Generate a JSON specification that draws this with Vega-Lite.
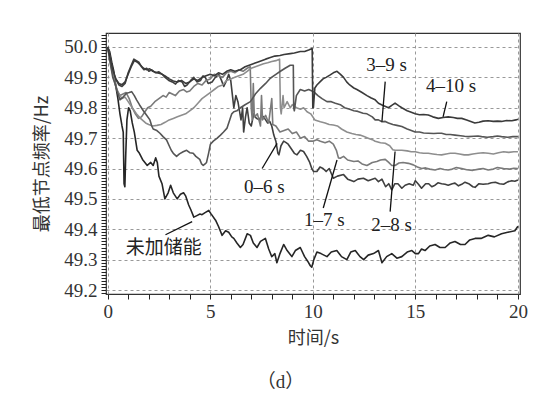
{
"$schema": "https://vega.github.io/schema/vega-lite/v6.json",
"width": 414, "height": 261,
"autosize": {"type": "none"},
"padding": {"left": 106, "top": 33, "right": 24, "bottom": 104},
"background": "white",
"config": {"view": {"stroke": "#333", "strokeWidth": 1.2}},
"title": {"text": "（d）", "orient": "bottom", "anchor": "middle", "frame": "bounds", "font": "Liberation Serif, Noto Sans CJK SC", "fontSize": 19, "fontWeight": "normal", "color": "#333", "offset": 26},
"datasets": {
"lines": [
{"s":"n","t":0,"f":50.0},{"s":"n","t":0.1,"f":49.985},{"s":"n","t":0.2,"f":49.95},{"s":"n","t":0.3,"f":49.92},{"s":"n","t":0.4,"f":49.87},{"s":"n","t":0.5,"f":49.83},{"s":"n","t":0.6,"f":49.78},{"s":"n","t":0.7,"f":49.74},{"s":"n","t":0.76,"f":49.72},{"s":"n","t":0.8,"f":49.55},{"s":"n","t":0.84,"f":49.54},{"s":"n","t":0.88,"f":49.64},{"s":"n","t":0.94,"f":49.76},{"s":"n","t":1.02,"f":49.8},{"s":"n","t":1.1,"f":49.79},{"s":"n","t":1.2,"f":49.75},{"s":"n","t":1.3,"f":49.72},{"s":"n","t":1.44,"f":49.66},{"s":"n","t":1.55,"f":49.65},{"s":"n","t":1.7,"f":49.63},{"s":"n","t":1.93,"f":49.61},{"s":"n","t":2.1,"f":49.62},{"s":"n","t":2.22,"f":49.61},{"s":"n","t":2.34,"f":49.635},{"s":"n","t":2.42,"f":49.62},{"s":"n","t":2.5,"f":49.575},{"s":"n","t":2.65,"f":49.55},{"s":"n","t":2.79,"f":49.5},{"s":"n","t":2.95,"f":49.52},{"s":"n","t":3.07,"f":49.545},{"s":"n","t":3.2,"f":49.52},{"s":"n","t":3.39,"f":49.5},{"s":"n","t":3.55,"f":49.515},{"s":"n","t":3.7,"f":49.52},{"s":"n","t":3.8,"f":49.51},{"s":"n","t":3.95,"f":49.48},{"s":"n","t":4.05,"f":49.465},{"s":"n","t":4.2,"f":49.44},{"s":"n","t":4.35,"f":49.445},{"s":"n","t":4.5,"f":49.45},{"s":"n","t":4.6,"f":49.448},{"s":"n","t":4.75,"f":49.455},{"s":"n","t":4.93,"f":49.462},{"s":"n","t":5.05,"f":49.45},{"s":"n","t":5.26,"f":49.43},{"s":"n","t":5.4,"f":49.41},{"s":"n","t":5.58,"f":49.38},{"s":"n","t":5.75,"f":49.395},{"s":"n","t":5.9,"f":49.39},{"s":"n","t":6.05,"f":49.375},{"s":"n","t":6.15,"f":49.37},{"s":"n","t":6.3,"f":49.355},{"s":"n","t":6.47,"f":49.34},{"s":"n","t":6.6,"f":49.35},{"s":"n","t":6.8,"f":49.385},{"s":"n","t":6.96,"f":49.38},{"s":"n","t":7.1,"f":49.355},{"s":"n","t":7.28,"f":49.34},{"s":"n","t":7.45,"f":49.36},{"s":"n","t":7.69,"f":49.37},{"s":"n","t":7.85,"f":49.335},{"s":"n","t":8.0,"f":49.31},{"s":"n","t":8.15,"f":49.32},{"s":"n","t":8.25,"f":49.29},{"s":"n","t":8.4,"f":49.32},{"s":"n","t":8.58,"f":49.35},{"s":"n","t":8.75,"f":49.33},{"s":"n","t":8.98,"f":49.31},{"s":"n","t":9.15,"f":49.33},{"s":"n","t":9.39,"f":49.34},{"s":"n","t":9.6,"f":49.31},{"s":"n","t":9.75,"f":49.295},{"s":"n","t":9.88,"f":49.28},{"s":"n","t":9.95,"f":49.275},{"s":"n","t":10.05,"f":49.3},{"s":"n","t":10.2,"f":49.325},{"s":"n","t":10.4,"f":49.32},{"s":"n","t":10.69,"f":49.31},{"s":"n","t":10.9,"f":49.325},{"s":"n","t":11.17,"f":49.33},{"s":"n","t":11.4,"f":49.31},{"s":"n","t":11.66,"f":49.3},{"s":"n","t":11.85,"f":49.325},{"s":"n","t":12.07,"f":49.33},{"s":"n","t":12.3,"f":49.31},{"s":"n","t":12.48,"f":49.3},{"s":"n","t":12.7,"f":49.315},{"s":"n","t":12.96,"f":49.32},{"s":"n","t":13.2,"f":49.33},{"s":"n","t":13.37,"f":49.29},{"s":"n","t":13.6,"f":49.31},{"s":"n","t":13.85,"f":49.32},{"s":"n","t":14.1,"f":49.305},{"s":"n","t":14.34,"f":49.31},{"s":"n","t":14.6,"f":49.325},{"s":"n","t":14.83,"f":49.33},{"s":"n","t":15.0,"f":49.32},{"s":"n","t":15.15,"f":49.32},{"s":"n","t":15.3,"f":49.335},{"s":"n","t":15.47,"f":49.33},{"s":"n","t":15.7,"f":49.345},{"s":"n","t":15.96,"f":49.35},{"s":"n","t":16.2,"f":49.34},{"s":"n","t":16.45,"f":49.34},{"s":"n","t":16.7,"f":49.355},{"s":"n","t":16.93,"f":49.36},{"s":"n","t":17.2,"f":49.35},{"s":"n","t":17.42,"f":49.35},{"s":"n","t":17.65,"f":49.365},{"s":"n","t":17.91,"f":49.37},{"s":"n","t":18.2,"f":49.37},{"s":"n","t":18.55,"f":49.38},{"s":"n","t":18.85,"f":49.375},{"s":"n","t":19.2,"f":49.385},{"s":"n","t":19.5,"f":49.39},{"s":"n","t":19.85,"f":49.395},{"s":"n","t":20.0,"f":49.41},

{"s":"a","t":0,"f":50.0},{"s":"a","t":0.12,"f":49.97},{"s":"a","t":0.23,"f":49.93},{"s":"a","t":0.35,"f":49.9},{"s":"a","t":0.55,"f":49.875},{"s":"a","t":0.7,"f":49.87},{"s":"a","t":0.85,"f":49.88},{"s":"a","t":1.0,"f":49.915},{"s":"a","t":1.15,"f":49.94},{"s":"a","t":1.28,"f":49.96},{"s":"a","t":1.4,"f":49.955},{"s":"a","t":1.52,"f":49.95},{"s":"a","t":1.65,"f":49.935},{"s":"a","t":1.77,"f":49.925},{"s":"a","t":1.9,"f":49.93},{"s":"a","t":2.01,"f":49.92},{"s":"a","t":2.15,"f":49.925},{"s":"a","t":2.34,"f":49.915},{"s":"a","t":2.5,"f":49.918},{"s":"a","t":2.66,"f":49.91},{"s":"a","t":2.8,"f":49.9},{"s":"a","t":2.98,"f":49.89},{"s":"a","t":3.15,"f":49.885},{"s":"a","t":3.31,"f":49.878},{"s":"a","t":3.45,"f":49.89},{"s":"a","t":3.63,"f":49.885},{"s":"a","t":3.75,"f":49.87},{"s":"a","t":3.87,"f":49.875},{"s":"a","t":4.05,"f":49.89},{"s":"a","t":4.2,"f":49.9},{"s":"a","t":4.35,"f":49.885},{"s":"a","t":4.53,"f":49.89},{"s":"a","t":4.65,"f":49.905},{"s":"a","t":4.76,"f":49.9},{"s":"a","t":4.9,"f":49.88},{"s":"a","t":5.09,"f":49.885},{"s":"a","t":5.25,"f":49.9},{"s":"a","t":5.42,"f":49.91},{"s":"a","t":5.55,"f":49.89},{"s":"a","t":5.66,"f":49.87},{"s":"a","t":5.8,"f":49.89},{"s":"a","t":5.9,"f":49.91},{"s":"a","t":6.0,"f":49.89},{"s":"a","t":6.1,"f":49.83},{"s":"a","t":6.15,"f":49.8},{"s":"a","t":6.25,"f":49.84},{"s":"a","t":6.35,"f":49.82},{"s":"a","t":6.5,"f":49.76},{"s":"a","t":6.58,"f":49.8},{"s":"a","t":6.63,"f":49.72},{"s":"a","t":6.72,"f":49.77},{"s":"a","t":6.8,"f":49.8},{"s":"a","t":6.9,"f":49.75},{"s":"a","t":7.0,"f":49.74},{"s":"a","t":7.12,"f":49.78},{"s":"a","t":7.25,"f":49.765},{"s":"a","t":7.4,"f":49.76},{"s":"a","t":7.5,"f":49.775},{"s":"a","t":7.6,"f":49.77},{"s":"a","t":7.7,"f":49.76},{"s":"a","t":7.8,"f":49.75},{"s":"a","t":7.9,"f":49.755},{"s":"a","t":8.0,"f":49.74},{"s":"a","t":8.1,"f":49.71},{"s":"a","t":8.2,"f":49.69},{"s":"a","t":8.3,"f":49.65},{"s":"a","t":8.35,"f":49.645},{"s":"a","t":8.45,"f":49.675},{"s":"a","t":8.58,"f":49.69},{"s":"a","t":8.7,"f":49.685},{"s":"a","t":8.8,"f":49.68},{"s":"a","t":8.95,"f":49.665},{"s":"a","t":9.1,"f":49.65},{"s":"a","t":9.23,"f":49.645},{"s":"a","t":9.4,"f":49.66},{"s":"a","t":9.55,"f":49.656},{"s":"a","t":9.7,"f":49.64},{"s":"a","t":9.85,"f":49.62},{"s":"a","t":9.95,"f":49.6},{"s":"a","t":10.04,"f":49.59},{"s":"a","t":10.2,"f":49.59},{"s":"a","t":10.35,"f":49.605},{"s":"a","t":10.5,"f":49.6},{"s":"a","t":10.65,"f":49.59},{"s":"a","t":10.8,"f":49.6},{"s":"a","t":11.0,"f":49.568},{"s":"a","t":11.2,"f":49.575},{"s":"a","t":11.5,"f":49.58},{"s":"a","t":11.7,"f":49.565},{"s":"a","t":12.0,"f":49.557},{"s":"a","t":12.2,"f":49.565},{"s":"a","t":12.47,"f":49.568},{"s":"a","t":12.7,"f":49.56},{"s":"a","t":12.9,"f":49.565},{"s":"a","t":13.04,"f":49.568},{"s":"a","t":13.2,"f":49.557},{"s":"a","t":13.37,"f":49.565},{"s":"a","t":13.55,"f":49.54},{"s":"a","t":13.7,"f":49.55},{"s":"a","t":13.85,"f":49.53},{"s":"a","t":14.0,"f":49.55},{"s":"a","t":14.15,"f":49.55},{"s":"a","t":14.34,"f":49.535},{"s":"a","t":14.5,"f":49.545},{"s":"a","t":14.7,"f":49.55},{"s":"a","t":14.9,"f":49.545},{"s":"a","t":15.0,"f":49.56},{"s":"a","t":15.15,"f":49.548},{"s":"a","t":15.3,"f":49.535},{"s":"a","t":15.5,"f":49.55},{"s":"a","t":15.65,"f":49.55},{"s":"a","t":15.8,"f":49.54},{"s":"a","t":15.96,"f":49.545},{"s":"a","t":16.1,"f":49.553},{"s":"a","t":16.28,"f":49.55},{"s":"a","t":16.45,"f":49.548},{"s":"a","t":16.6,"f":49.545},{"s":"a","t":16.8,"f":49.55},{"s":"a","t":16.93,"f":49.552},{"s":"a","t":17.1,"f":49.543},{"s":"a","t":17.26,"f":49.548},{"s":"a","t":17.42,"f":49.555},{"s":"a","t":17.6,"f":49.55},{"s":"a","t":17.8,"f":49.54},{"s":"a","t":17.91,"f":49.538},{"s":"a","t":18.1,"f":49.55},{"s":"a","t":18.3,"f":49.548},{"s":"a","t":18.55,"f":49.55},{"s":"a","t":18.7,"f":49.553},{"s":"a","t":18.9,"f":49.555},{"s":"a","t":19.1,"f":49.55},{"s":"a","t":19.3,"f":49.548},{"s":"a","t":19.5,"f":49.556},{"s":"a","t":19.7,"f":49.56},{"s":"a","t":19.85,"f":49.558},{"s":"a","t":20.0,"f":49.562},

{"s":"b","t":0,"f":50.0},{"s":"b","t":0.15,"f":49.95},{"s":"b","t":0.3,"f":49.9},{"s":"b","t":0.45,"f":49.86},{"s":"b","t":0.6,"f":49.84},{"s":"b","t":0.75,"f":49.845},{"s":"b","t":0.9,"f":49.85},{"s":"b","t":1.05,"f":49.83},{"s":"b","t":1.2,"f":49.8},{"s":"b","t":1.35,"f":49.78},{"s":"b","t":1.5,"f":49.765},{"s":"b","t":1.65,"f":49.77},{"s":"b","t":1.8,"f":49.785},{"s":"b","t":1.95,"f":49.8},{"s":"b","t":2.1,"f":49.805},{"s":"b","t":2.3,"f":49.82},{"s":"b","t":2.5,"f":49.83},{"s":"b","t":2.7,"f":49.84},{"s":"b","t":2.85,"f":49.835},{"s":"b","t":3.0,"f":49.85},{"s":"b","t":3.15,"f":49.845},{"s":"b","t":3.3,"f":49.84},{"s":"b","t":3.5,"f":49.855},{"s":"b","t":3.7,"f":49.86},{"s":"b","t":3.85,"f":49.852},{"s":"b","t":4.0,"f":49.855},{"s":"b","t":4.2,"f":49.87},{"s":"b","t":4.4,"f":49.88},{"s":"b","t":4.6,"f":49.875},{"s":"b","t":4.8,"f":49.89},{"s":"b","t":5.0,"f":49.895},{"s":"b","t":5.2,"f":49.91},{"s":"b","t":5.4,"f":49.905},{"s":"b","t":5.6,"f":49.9},{"s":"b","t":5.8,"f":49.915},{"s":"b","t":6.0,"f":49.92},{"s":"b","t":6.2,"f":49.915},{"s":"b","t":6.4,"f":49.925},{"s":"b","t":6.6,"f":49.92},{"s":"b","t":6.8,"f":49.93},{"s":"b","t":6.95,"f":49.935},{"s":"b","t":7.0,"f":49.8},{"s":"b","t":7.05,"f":49.76},{"s":"b","t":7.1,"f":49.88},{"s":"b","t":7.15,"f":49.77},{"s":"b","t":7.3,"f":49.78},{"s":"b","t":7.45,"f":49.74},{"s":"b","t":7.5,"f":49.84},{"s":"b","t":7.55,"f":49.76},{"s":"b","t":7.7,"f":49.775},{"s":"b","t":7.85,"f":49.75},{"s":"b","t":8.0,"f":49.83},{"s":"b","t":8.05,"f":49.745},{"s":"b","t":8.2,"f":49.74},{"s":"b","t":8.4,"f":49.72},{"s":"b","t":8.6,"f":49.725},{"s":"b","t":8.8,"f":49.73},{"s":"b","t":9.0,"f":49.715},{"s":"b","t":9.2,"f":49.72},{"s":"b","t":9.4,"f":49.7},{"s":"b","t":9.6,"f":49.705},{"s":"b","t":9.8,"f":49.69},{"s":"b","t":10.0,"f":49.69},{"s":"b","t":10.2,"f":49.695},{"s":"b","t":10.37,"f":49.69},{"s":"b","t":10.6,"f":49.685},{"s":"b","t":10.8,"f":49.69},{"s":"b","t":11.0,"f":49.68},{"s":"b","t":11.15,"f":49.66},{"s":"b","t":11.25,"f":49.635},{"s":"b","t":11.34,"f":49.634},{"s":"b","t":11.5,"f":49.64},{"s":"b","t":11.7,"f":49.628},{"s":"b","t":12.0,"f":49.623},{"s":"b","t":12.2,"f":49.625},{"s":"b","t":12.4,"f":49.615},{"s":"b","t":12.64,"f":49.61},{"s":"b","t":12.9,"f":49.62},{"s":"b","t":13.12,"f":49.623},{"s":"b","t":13.3,"f":49.628},{"s":"b","t":13.53,"f":49.63},{"s":"b","t":13.7,"f":49.62},{"s":"b","t":13.85,"f":49.61},{"s":"b","t":14.01,"f":49.61},{"s":"b","t":14.2,"f":49.618},{"s":"b","t":14.4,"f":49.62},{"s":"b","t":14.66,"f":49.617},{"s":"b","t":14.9,"f":49.612},{"s":"b","t":15.1,"f":49.605},{"s":"b","t":15.31,"f":49.6},{"s":"b","t":15.5,"f":49.602},{"s":"b","t":15.7,"f":49.598},{"s":"b","t":15.96,"f":49.595},{"s":"b","t":16.2,"f":49.6},{"s":"b","t":16.4,"f":49.597},{"s":"b","t":16.6,"f":49.595},{"s":"b","t":16.8,"f":49.598},{"s":"b","t":17.0,"f":49.603},{"s":"b","t":17.26,"f":49.6},{"s":"b","t":17.5,"f":49.596},{"s":"b","t":17.8,"f":49.594},{"s":"b","t":18.1,"f":49.598},{"s":"b","t":18.3,"f":49.6},{"s":"b","t":18.55,"f":49.595},{"s":"b","t":18.8,"f":49.598},{"s":"b","t":19.0,"f":49.603},{"s":"b","t":19.3,"f":49.6},{"s":"b","t":19.6,"f":49.598},{"s":"b","t":19.8,"f":49.601},{"s":"b","t":20.0,"f":49.6},

{"s":"c","t":0,"f":50.0},{"s":"c","t":0.15,"f":49.94},{"s":"c","t":0.35,"f":49.88},{"s":"c","t":0.5,"f":49.85},{"s":"c","t":0.7,"f":49.83},{"s":"c","t":0.85,"f":49.835},{"s":"c","t":1.0,"f":49.82},{"s":"c","t":1.2,"f":49.8},{"s":"c","t":1.4,"f":49.78},{"s":"c","t":1.6,"f":49.765},{"s":"c","t":1.85,"f":49.75},{"s":"c","t":2.0,"f":49.745},{"s":"c","t":2.2,"f":49.74},{"s":"c","t":2.4,"f":49.742},{"s":"c","t":2.6,"f":49.745},{"s":"c","t":2.8,"f":49.752},{"s":"c","t":3.0,"f":49.76},{"s":"c","t":3.2,"f":49.765},{"s":"c","t":3.4,"f":49.77},{"s":"c","t":3.6,"f":49.775},{"s":"c","t":3.8,"f":49.78},{"s":"c","t":4.0,"f":49.79},{"s":"c","t":4.2,"f":49.8},{"s":"c","t":4.4,"f":49.815},{"s":"c","t":4.6,"f":49.83},{"s":"c","t":4.8,"f":49.84},{"s":"c","t":5.0,"f":49.85},{"s":"c","t":5.2,"f":49.86},{"s":"c","t":5.4,"f":49.87},{"s":"c","t":5.6,"f":49.875},{"s":"c","t":5.8,"f":49.89},{"s":"c","t":6.0,"f":49.895},{"s":"c","t":6.2,"f":49.9},{"s":"c","t":6.4,"f":49.905},{"s":"c","t":6.6,"f":49.91},{"s":"c","t":6.8,"f":49.92},{"s":"c","t":7.0,"f":49.93},{"s":"c","t":7.2,"f":49.935},{"s":"c","t":7.4,"f":49.94},{"s":"c","t":7.6,"f":49.945},{"s":"c","t":7.8,"f":49.948},{"s":"c","t":8.0,"f":49.952},{"s":"c","t":8.2,"f":49.955},{"s":"c","t":8.38,"f":49.96},{"s":"c","t":8.42,"f":49.8},{"s":"c","t":8.46,"f":49.78},{"s":"c","t":8.55,"f":49.84},{"s":"c","t":8.6,"f":49.8},{"s":"c","t":8.75,"f":49.82},{"s":"c","t":8.9,"f":49.8},{"s":"c","t":9.0,"f":49.81},{"s":"c","t":9.2,"f":49.8},{"s":"c","t":9.4,"f":49.795},{"s":"c","t":9.55,"f":49.8},{"s":"c","t":9.72,"f":49.787},{"s":"c","t":9.9,"f":49.78},{"s":"c","t":10.1,"f":49.76},{"s":"c","t":10.37,"f":49.754},{"s":"c","t":10.6,"f":49.75},{"s":"c","t":10.8,"f":49.745},{"s":"c","t":11.0,"f":49.743},{"s":"c","t":11.2,"f":49.74},{"s":"c","t":11.4,"f":49.73},{"s":"c","t":11.66,"f":49.72},{"s":"c","t":11.9,"f":49.715},{"s":"c","t":12.1,"f":49.712},{"s":"c","t":12.3,"f":49.71},{"s":"c","t":12.5,"f":49.705},{"s":"c","t":12.7,"f":49.7},{"s":"c","t":12.9,"f":49.695},{"s":"c","t":13.04,"f":49.69},{"s":"c","t":13.3,"f":49.685},{"s":"c","t":13.53,"f":49.683},{"s":"c","t":13.75,"f":49.675},{"s":"c","t":13.9,"f":49.662},{"s":"c","t":14.01,"f":49.66},{"s":"c","t":14.2,"f":49.66},{"s":"c","t":14.34,"f":49.66},{"s":"c","t":14.6,"f":49.658},{"s":"c","t":14.8,"f":49.655},{"s":"c","t":14.99,"f":49.655},{"s":"c","t":15.2,"f":49.652},{"s":"c","t":15.4,"f":49.65},{"s":"c","t":15.63,"f":49.65},{"s":"c","t":15.85,"f":49.648},{"s":"c","t":16.05,"f":49.646},{"s":"c","t":16.28,"f":49.645},{"s":"c","t":16.5,"f":49.648},{"s":"c","t":16.7,"f":49.65},{"s":"c","t":16.93,"f":49.65},{"s":"c","t":17.15,"f":49.648},{"s":"c","t":17.38,"f":49.645},{"s":"c","t":17.58,"f":49.645},{"s":"c","t":17.8,"f":49.648},{"s":"c","t":18.05,"f":49.65},{"s":"c","t":18.3,"f":49.652},{"s":"c","t":18.55,"f":49.65},{"s":"c","t":18.8,"f":49.648},{"s":"c","t":19.05,"f":49.652},{"s":"c","t":19.3,"f":49.655},{"s":"c","t":19.55,"f":49.653},{"s":"c","t":19.8,"f":49.655},{"s":"c","t":20.0,"f":49.655},

{"s":"d","t":0,"f":50.0},{"s":"d","t":0.12,"f":49.95},{"s":"d","t":0.25,"f":49.9},{"s":"d","t":0.36,"f":49.88},{"s":"d","t":0.48,"f":49.85},{"s":"d","t":0.6,"f":49.826},{"s":"d","t":0.75,"f":49.835},{"s":"d","t":0.92,"f":49.848},{"s":"d","t":1.05,"f":49.85},{"s":"d","t":1.17,"f":49.853},{"s":"d","t":1.3,"f":49.84},{"s":"d","t":1.41,"f":49.826},{"s":"d","t":1.55,"f":49.81},{"s":"d","t":1.74,"f":49.79},{"s":"d","t":1.9,"f":49.775},{"s":"d","t":2.06,"f":49.76},{"s":"d","t":2.15,"f":49.74},{"s":"d","t":2.22,"f":49.73},{"s":"d","t":2.4,"f":49.725},{"s":"d","t":2.55,"f":49.716},{"s":"d","t":2.7,"f":49.705},{"s":"d","t":2.87,"f":49.694},{"s":"d","t":3.0,"f":49.675},{"s":"d","t":3.1,"f":49.66},{"s":"d","t":3.2,"f":49.65},{"s":"d","t":3.36,"f":49.64},{"s":"d","t":3.5,"f":49.648},{"s":"d","t":3.68,"f":49.655},{"s":"d","t":3.85,"f":49.66},{"s":"d","t":4.0,"f":49.652},{"s":"d","t":4.17,"f":49.65},{"s":"d","t":4.3,"f":49.64},{"s":"d","t":4.49,"f":49.63},{"s":"d","t":4.58,"f":49.615},{"s":"d","t":4.66,"f":49.61},{"s":"d","t":4.75,"f":49.615},{"s":"d","t":4.82,"f":49.62},{"s":"d","t":4.92,"f":49.65},{"s":"d","t":5.01,"f":49.68},{"s":"d","t":5.15,"f":49.69},{"s":"d","t":5.34,"f":49.7},{"s":"d","t":5.5,"f":49.71},{"s":"d","t":5.65,"f":49.72},{"s":"d","t":5.82,"f":49.733},{"s":"d","t":5.95,"f":49.76},{"s":"d","t":6.05,"f":49.78},{"s":"d","t":6.15,"f":49.787},{"s":"d","t":6.3,"f":49.79},{"s":"d","t":6.47,"f":49.8},{"s":"d","t":6.7,"f":49.81},{"s":"d","t":6.96,"f":49.82},{"s":"d","t":7.2,"f":49.845},{"s":"d","t":7.45,"f":49.864},{"s":"d","t":7.7,"f":49.88},{"s":"d","t":7.93,"f":49.897},{"s":"d","t":8.2,"f":49.91},{"s":"d","t":8.42,"f":49.92},{"s":"d","t":8.65,"f":49.93},{"s":"d","t":8.9,"f":49.94},{"s":"d","t":9.05,"f":49.94},{"s":"d","t":9.07,"f":49.8},{"s":"d","t":9.1,"f":49.79},{"s":"d","t":9.2,"f":49.84},{"s":"d","t":9.39,"f":49.86},{"s":"d","t":9.6,"f":49.855},{"s":"d","t":9.8,"f":49.86},{"s":"d","t":10.04,"f":49.853},{"s":"d","t":10.25,"f":49.84},{"s":"d","t":10.45,"f":49.83},{"s":"d","t":10.69,"f":49.82},{"s":"d","t":10.9,"f":49.82},{"s":"d","t":11.1,"f":49.815},{"s":"d","t":11.34,"f":49.81},{"s":"d","t":11.55,"f":49.8},{"s":"d","t":11.8,"f":49.795},{"s":"d","t":12.0,"f":49.79},{"s":"d","t":12.2,"f":49.788},{"s":"d","t":12.45,"f":49.782},{"s":"d","t":12.64,"f":49.78},{"s":"d","t":12.9,"f":49.77},{"s":"d","t":13.04,"f":49.76},{"s":"d","t":13.2,"f":49.76},{"s":"d","t":13.37,"f":49.754},{"s":"d","t":13.53,"f":49.755},{"s":"d","t":13.69,"f":49.75},{"s":"d","t":13.9,"f":49.745},{"s":"d","t":14.1,"f":49.742},{"s":"d","t":14.34,"f":49.738},{"s":"d","t":14.6,"f":49.73},{"s":"d","t":14.8,"f":49.725},{"s":"d","t":14.99,"f":49.72},{"s":"d","t":15.2,"f":49.72},{"s":"d","t":15.4,"f":49.717},{"s":"d","t":15.63,"f":49.716},{"s":"d","t":15.9,"f":49.715},{"s":"d","t":16.1,"f":49.716},{"s":"d","t":16.28,"f":49.716},{"s":"d","t":16.5,"f":49.712},{"s":"d","t":16.7,"f":49.712},{"s":"d","t":16.93,"f":49.71},{"s":"d","t":17.2,"f":49.708},{"s":"d","t":17.4,"f":49.706},{"s":"d","t":17.58,"f":49.705},{"s":"d","t":17.85,"f":49.706},{"s":"d","t":18.05,"f":49.707},{"s":"d","t":18.23,"f":49.705},{"s":"d","t":18.5,"f":49.703},{"s":"d","t":18.8,"f":49.705},{"s":"d","t":19.0,"f":49.707},{"s":"d","t":19.2,"f":49.705},{"s":"d","t":19.5,"f":49.703},{"s":"d","t":19.75,"f":49.705},{"s":"d","t":20.0,"f":49.705},

{"s":"e","t":0,"f":50.0},{"s":"e","t":0.12,"f":49.965},{"s":"e","t":0.25,"f":49.925},{"s":"e","t":0.4,"f":49.895},{"s":"e","t":0.55,"f":49.88},{"s":"e","t":0.7,"f":49.876},{"s":"e","t":0.85,"f":49.885},{"s":"e","t":1.0,"f":49.91},{"s":"e","t":1.15,"f":49.935},{"s":"e","t":1.3,"f":49.955},{"s":"e","t":1.45,"f":49.95},{"s":"e","t":1.6,"f":49.94},{"s":"e","t":1.75,"f":49.93},{"s":"e","t":1.9,"f":49.925},{"s":"e","t":2.05,"f":49.928},{"s":"e","t":2.2,"f":49.92},{"s":"e","t":2.4,"f":49.915},{"s":"e","t":2.6,"f":49.912},{"s":"e","t":2.8,"f":49.905},{"s":"e","t":3.0,"f":49.895},{"s":"e","t":3.2,"f":49.888},{"s":"e","t":3.4,"f":49.885},{"s":"e","t":3.6,"f":49.89},{"s":"e","t":3.8,"f":49.88},{"s":"e","t":4.0,"f":49.885},{"s":"e","t":4.2,"f":49.895},{"s":"e","t":4.4,"f":49.89},{"s":"e","t":4.6,"f":49.9},{"s":"e","t":4.8,"f":49.905},{"s":"e","t":5.0,"f":49.91},{"s":"e","t":5.2,"f":49.905},{"s":"e","t":5.4,"f":49.915},{"s":"e","t":5.6,"f":49.91},{"s":"e","t":5.8,"f":49.92},{"s":"e","t":6.0,"f":49.925},{"s":"e","t":6.2,"f":49.92},{"s":"e","t":6.47,"f":49.925},{"s":"e","t":6.7,"f":49.935},{"s":"e","t":6.9,"f":49.94},{"s":"e","t":7.1,"f":49.945},{"s":"e","t":7.3,"f":49.95},{"s":"e","t":7.5,"f":49.955},{"s":"e","t":7.7,"f":49.96},{"s":"e","t":7.93,"f":49.965},{"s":"e","t":8.15,"f":49.97},{"s":"e","t":8.4,"f":49.972},{"s":"e","t":8.6,"f":49.975},{"s":"e","t":8.9,"f":49.978},{"s":"e","t":9.1,"f":49.98},{"s":"e","t":9.39,"f":49.985},{"s":"e","t":9.6,"f":49.985},{"s":"e","t":9.8,"f":49.99},{"s":"e","t":9.97,"f":49.995},{"s":"e","t":10.0,"f":49.8},{"s":"e","t":10.03,"f":49.8},{"s":"e","t":10.1,"f":49.865},{"s":"e","t":10.2,"f":49.875},{"s":"e","t":10.35,"f":49.885},{"s":"e","t":10.5,"f":49.895},{"s":"e","t":10.65,"f":49.9},{"s":"e","t":10.85,"f":49.908},{"s":"e","t":11.0,"f":49.915},{"s":"e","t":11.18,"f":49.92},{"s":"e","t":11.35,"f":49.91},{"s":"e","t":11.5,"f":49.9},{"s":"e","t":11.65,"f":49.885},{"s":"e","t":11.8,"f":49.875},{"s":"e","t":12.0,"f":49.865},{"s":"e","t":12.15,"f":49.86},{"s":"e","t":12.4,"f":49.85},{"s":"e","t":12.64,"f":49.84},{"s":"e","t":12.85,"f":49.832},{"s":"e","t":13.04,"f":49.826},{"s":"e","t":13.2,"f":49.815},{"s":"e","t":13.4,"f":49.808},{"s":"e","t":13.69,"f":49.8},{"s":"e","t":13.85,"f":49.808},{"s":"e","t":14.01,"f":49.815},{"s":"e","t":14.2,"f":49.806},{"s":"e","t":14.34,"f":49.8},{"s":"e","t":14.6,"f":49.79},{"s":"e","t":14.8,"f":49.785},{"s":"e","t":14.99,"f":49.78},{"s":"e","t":15.2,"f":49.777},{"s":"e","t":15.4,"f":49.778},{"s":"e","t":15.63,"f":49.776},{"s":"e","t":15.85,"f":49.77},{"s":"e","t":16.12,"f":49.765},{"s":"e","t":16.35,"f":49.768},{"s":"e","t":16.6,"f":49.77},{"s":"e","t":16.85,"f":49.768},{"s":"e","t":17.05,"f":49.765},{"s":"e","t":17.26,"f":49.765},{"s":"e","t":17.5,"f":49.76},{"s":"e","t":17.7,"f":49.755},{"s":"e","t":17.9,"f":49.75},{"s":"e","t":18.1,"f":49.752},{"s":"e","t":18.3,"f":49.756},{"s":"e","t":18.55,"f":49.757},{"s":"e","t":18.8,"f":49.755},{"s":"e","t":19.0,"f":49.756},{"s":"e","t":19.2,"f":49.755},{"s":"e","t":19.45,"f":49.758},{"s":"e","t":19.7,"f":49.757},{"s":"e","t":19.9,"f":49.76},{"s":"e","t":20.0,"f":49.762}
],
"labels": [
{"label":"3–9 s","t":13.6,"f":49.94},
{"label":"4–10 s","t":16.74,"f":49.872},
{"label":"0–6 s","t":7.64,"f":49.54},
{"label":"1–7 s","t":10.56,"f":49.43},
{"label":"2–8 s","t":13.84,"f":49.413}
],
"cjk": [
{"label":"未加储能","t":2.74,"f":49.34}
],
"pointers": [
{"t":13.53,"f":49.886,"t2":13.37,"f2":49.754},
{"t":16.53,"f":49.82,"t2":16.35,"f2":49.77},
{"t":7.53,"f":49.6,"t2":8.26,"f2":49.683},
{"t":10.51,"f":49.47,"t2":11.18,"f2":49.628},
{"t":13.77,"f":49.458,"t2":14.01,"f2":49.656},
{"t":2.82,"f":49.382,"t2":4.12,"f2":49.425}
]
},
"encoding": {
"x": {"field": "t", "type": "quantitative", "scale": {"domain": [-0.08, 20.1], "nice": false, "zero": false},
 "axis": {"title": "时间/s", "values": [0,1,2,3,4,5,6,7,8,9,10,11,12,13,14,15,16,17,18,19,20],
  "labelExpr": "datum.value % 5 == 0 ? format(datum.value, 'd') : ''",
  "ticks": true, "tickSize": 5, "tickWidth": 1, "tickColor": "#222",
  "grid": true, "gridDash": [3, 3], "gridColor": "#999999",
  "gridOpacity": {"condition": {"test": "datum.value % 5 == 0", "value": 1}, "value": 0},
  "domain": false, "labelFont": "Liberation Serif", "labelFontSize": 19, "labelColor": "#333", "labelPadding": 3,
  "titleFont": "Noto Sans CJK SC", "titleFontSize": 18, "titleFontWeight": "normal", "titleColor": "#333", "titlePadding": 8, "labelFlush": false}},
"y": {"field": "f", "type": "quantitative", "scale": {"domain": [49.187, 50.046], "nice": false, "zero": false},
 "axis": {"title": "最低节点频率/Hz", "values": [49.19,49.2,49.21,49.22,49.23,49.24,49.25,49.26,49.27,49.28,49.29,49.3,49.31,49.32,49.33,49.34,49.35,49.36,49.37,49.38,49.39,49.4,49.41,49.42,49.43,49.44,49.45,49.46,49.47,49.48,49.49,49.5,49.51,49.52,49.53,49.54,49.55,49.56,49.57,49.58,49.59,49.6,49.61,49.62,49.63,49.64,49.65,49.66,49.67,49.68,49.69,49.7,49.71,49.72,49.73,49.74,49.75,49.76,49.77,49.78,49.79,49.8,49.81,49.82,49.83,49.84,49.85,49.86,49.87,49.88,49.89,49.9,49.91,49.92,49.93,49.94,49.95,49.96,49.97,49.98,49.99,50,50.01,50.02,50.03,50.04],
  "labelExpr": "abs(datum.value * 10 - round(datum.value * 10)) < 0.001 ? format(datum.value, '.1f') : ''",
  "ticks": true, "tickSize": 5, "tickWidth": 1, "tickColor": "#222",
  "grid": true, "gridDash": [3, 3], "gridColor": "#999999",
  "gridOpacity": {"condition": {"test": "abs(datum.value * 10 - round(datum.value * 10)) < 0.001", "value": 1}, "value": 0},
  "domain": false, "labelFont": "Liberation Serif", "labelFontSize": 19, "labelColor": "#333", "labelPadding": 4,
  "titleFont": "Noto Sans CJK SC", "titleFontSize": 18, "titleFontWeight": "normal", "titleColor": "#333", "titlePadding": 12, "labelFlush": false}}
},
"layer": [
{"data": {"name": "lines"}, "mark": {"type": "line", "strokeWidth": 1.6, "strokeJoin": "round"},
 "encoding": {"color": {"field": "s", "type": "nominal", "legend": null,
   "scale": {"domain": ["n","a","b","c","d","e"], "range": ["#262626","#3f3f3f","#7a7a7a","#8e8e8e","#555555","#3a3a3a"]}}}},
{"data": {"name": "pointers"}, "mark": {"type": "rule", "color": "#111", "strokeWidth": 1.3},
 "encoding": {"x2": {"field": "t2"}, "y2": {"field": "f2"}}},
{"data": {"name": "labels"}, "mark": {"type": "text", "font": "Liberation Serif", "fontSize": 19, "color": "#222", "align": "center", "baseline": "middle"},
 "encoding": {"text": {"field": "label"}}},
{"data": {"name": "cjk"}, "mark": {"type": "text", "font": "Noto Sans CJK SC", "fontSize": 19, "color": "#222", "align": "center", "baseline": "middle"},
 "encoding": {"text": {"field": "label"}}}
]
}
